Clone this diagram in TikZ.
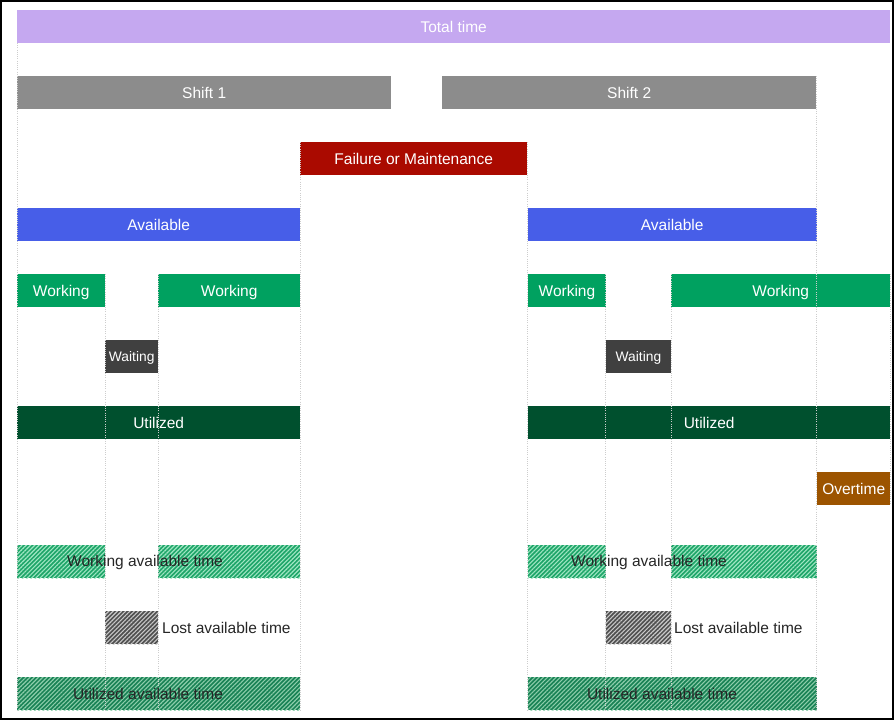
\documentclass[tikz,border=0pt]{standalone}
\usepackage{fontspec}
\setmainfont{Liberation Sans}
\usetikzlibrary{patterns.meta}
\definecolor{totalc}{RGB}{197,168,240}
\definecolor{shiftc}{RGB}{140,140,140}
\definecolor{failc}{RGB}{170,10,0}
\definecolor{availc}{RGB}{71,94,232}
\definecolor{workc}{RGB}{0,161,96}
\definecolor{waitc}{RGB}{64,64,64}
\definecolor{utilc}{RGB}{0,80,46}
\definecolor{overc}{RGB}{156,84,0}
\definecolor{hwbase}{RGB}{30,165,105}
\definecolor{hwline}{RGB}{160,230,195}
\definecolor{hubase}{RGB}{25,130,85}
\definecolor{huline}{RGB}{140,205,170}
\definecolor{hlbase}{RGB}{80,80,80}
\definecolor{hlline}{RGB}{200,200,200}
\definecolor{txtc}{RGB}{38,38,38}
\definecolor{gridc}{RGB}{205,205,205}
\begin{document}
\begin{tikzpicture}[x=1pt,y=-1pt,
  bar/.style={anchor=north west, inner sep=0pt, minimum height=33pt, text=white,
    font=\fontsize{15.5}{17}\selectfont, text depth=0.5pt},
  hatchbox/.style={anchor=north west, inner sep=0pt, minimum height=33pt},
  hwork/.style={hatchbox, fill=hwbase, postaction={pattern={Lines[angle=45,distance=3pt,line width=1.1pt]}, pattern color=hwline}},
  hutil/.style={hatchbox, fill=hubase, postaction={pattern={Lines[angle=45,distance=3pt,line width=1.1pt]}, pattern color=huline}},
  hlost/.style={hatchbox, fill=hlbase, postaction={pattern={Lines[angle=45,distance=3pt,line width=1.1pt]}, pattern color=hlline}},
  label/.style={inner sep=0pt, text=txtc, font=\fontsize{15.5}{17}\selectfont},
  grid/.style={draw=gridc, line width=0.9pt, dash pattern=on 1pt off 1.2pt}]
\useasboundingbox (0,0) rectangle (894,720);
% bars
\node[bar, fill=totalc, minimum width=873pt] (total) at (17,10) {Total time};
\node[bar, fill=shiftc, minimum width=374pt] (shift1) at (17,76) {Shift 1};
\node[bar, fill=shiftc, minimum width=374pt] (shift2) at (442,76) {Shift 2};
\node[bar, fill=failc, minimum width=227pt] (fail) at (300,142) {Failure or Maintenance};
\node[bar, fill=availc, minimum width=283pt] (avail1) at (17,208) {Available};
\node[bar, fill=availc, minimum width=289pt] (avail2) at (527.5,208) {Available};
\node[bar, fill=workc, minimum width=88pt] (work1) at (17,274) {Working};
\node[bar, fill=workc, minimum width=142pt] (work2) at (158,274) {Working};
\node[bar, fill=workc, minimum width=77.5pt] (work3) at (528,274) {Working};
\node[bar, fill=workc, minimum width=219pt] (work4) at (671,274) {Working};
\node[bar, fill=waitc, minimum width=53pt, font=\fontsize{13.8}{15}\selectfont] (wait1) at (105,340) {Waiting};
\node[bar, fill=waitc, minimum width=65.5pt, font=\fontsize{13.8}{15}\selectfont] (wait2) at (605.5,340) {Waiting};
\node[bar, fill=utilc, minimum width=283pt] (util1) at (17,406) {Utilized};
\node[bar, fill=utilc, minimum width=362pt] (util2) at (528,406) {Utilized};
\node[bar, fill=overc, minimum width=73pt] (over) at (817,472) {Overtime};
% hatched boxes
\node[hwork, minimum width=88pt] (wat1) at (17,545) {};
\node[hwork, minimum width=142pt] (wat2) at (158,545) {};
\node[hwork, minimum width=77.5pt] (wat3) at (528,545) {};
\node[hwork, minimum width=145.5pt] (wat4) at (671,545) {};
\node[hlost, minimum width=53pt] (lat1) at (105,611) {};
\node[hlost, minimum width=65.5pt] (lat2) at (605.5,611) {};
\node[hutil, minimum width=283pt] (uat1) at (17,677) {};
\node[hutil, minimum width=288.5pt] (uat2) at (528,677) {};
% grid lines
\draw[grid] (17,43) -- (17,711);
\foreach \gx in {105,158,605.5,671}
  \draw[grid] (\gx,274) -- (\gx,711);
\draw[grid] (300,142) -- (300,711);
\draw[grid] (527.5,142) -- (527.5,711);
\draw[grid] (816.5,76) -- (816.5,711);
\draw[grid] (890,274) -- (890,505);
% hatched labels
\node[label] (watl1) at (145,562) {Working available time};
\node[label] (watl2) at (649,562) {Working available time};
\node[label, anchor=west] (latl1) at (162,628) {Lost available time};
\node[label, anchor=west] (latl2) at (674,628) {Lost available time};
\node[label] (uatl1) at (148,694) {Utilized available time};
\node[label] (uatl2) at (662,694) {Utilized available time};
% frame
\draw[line width=1.6pt] (0.8,0.8) rectangle (893.2,719.2);
\end{tikzpicture}
\end{document}
